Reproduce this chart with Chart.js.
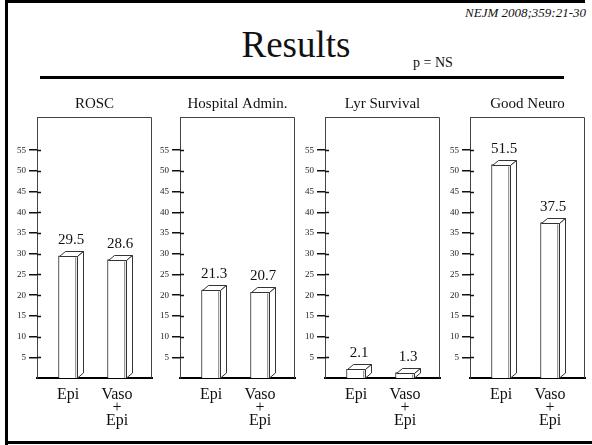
<!DOCTYPE html>
<html>
<head>
<meta charset="utf-8">
<script src="https://cdn.jsdelivr.net/npm/chart.js@4.4.1/dist/chart.umd.min.js"></script>
<style>
  html, body { margin: 0; padding: 0; background: #fff; }
  body { width: 592px; height: 445px; position: relative; overflow: hidden; font-family: "Liberation Serif", "Times New Roman", Tinos, "Noto Serif", "DejaVu Serif", serif; color: #111; }
  .abs { position: absolute; white-space: nowrap; }
  .line { position: absolute; background: #000; }
  canvas { position: absolute; top: 90px; }
  #cite { right: 6px; top: 6px; font-style: italic; font-size: 13px; line-height: 1; }
  #heading { left: 0; width: 592px; text-align: center; top: 26px; font-size: 37px; line-height: 1; }
  #pval { left: 413px; top: 56px; font-size: 14px; line-height: 1; }
</style>
</head>
<body>
<div class="line" style="left:5px;top:0px;width:3px;height:445px"></div>
<div class="line" style="left:5px;top:0px;width:580px;height:3px"></div>
<div class="line" style="left:5px;top:441px;width:587px;height:3px"></div>

<div id="cite" class="abs">NEJM 2008;359:21-30</div>
<div id="heading" class="abs">Results</div>
<div id="pval" class="abs">p = NS</div>
<div class="line" style="left:40px;top:76px;width:524px;height:3px"></div>

<canvas id="c0" width="162" height="355" style="left:0px"></canvas>
<canvas id="c1" width="162" height="355" style="left:143px"></canvas>
<canvas id="c2" width="162" height="355" style="left:288px"></canvas>
<canvas id="c3" width="162" height="355" style="left:433px"></canvas>

<script>
// Outcome panels and the two treatment groups
const panelTitles = ['ROSC', 'Hospital Admin.', 'Lyr Survival', 'Good Neuro'];
const groupLabels = [['Epi'], ['Vaso', '+', 'Epi']];
const epiValues = [29.5, 21.3, 2.1, 51.5];
const vasoEpiValues = [28.6, 20.7, 1.3, 37.5];
const yTickValues = [5, 10, 15, 20, 25, 30, 35, 40, 45, 50, 55];

const SERIF = '"Liberation Serif", "Times New Roman", Tinos, "Noto Serif", "DejaVu Serif", serif';
const DEPTH_X = 6, DEPTH_Y = 5;

// Draws the box frame, inner tick stubs, panel title, 3D bar faces and value labels
const panelDecor = {
  id: 'panelDecor',
  afterDatasetsDraw(chart, args, opts) {
    const ctx = chart.ctx;
    const a = chart.chartArea;
    const ys = chart.scales.y;
    ctx.save();
    // top and right edges of the panel box
    ctx.strokeStyle = '#444';
    ctx.lineWidth = 1;
    ctx.beginPath();
    ctx.moveTo(a.left, a.top + 0.5);
    ctx.lineTo(a.right - 0.5, a.top + 0.5);
    ctx.lineTo(a.right - 0.5, a.bottom);
    ctx.stroke();
    // tick stubs reaching into the box
    ctx.strokeStyle = '#111';
    ctx.lineWidth = 1.5;
    ys.ticks.forEach(t => {
      const py = Math.round(ys.getPixelForValue(t.value)) + 0.5;
      ctx.beginPath();
      ctx.moveTo(a.left, py);
      ctx.lineTo(a.left + 4, py);
      ctx.stroke();
    });
    // panel title
    ctx.fillStyle = '#111';
    ctx.font = '15px ' + SERIF;
    ctx.textAlign = 'center';
    ctx.textBaseline = 'middle';
    ctx.fillText(opts.title, (a.left + a.right) / 2, a.top - 13);

    // 3D top and side faces, plus labels
    const meta = chart.getDatasetMeta(0);
    meta.data.forEach((bar, i) => {
      const p = bar.getProps(['x', 'y', 'base', 'width'], true);
      const l = Math.round(p.x - p.width / 2) + 0.5;
      const r = Math.round(p.x + p.width / 2) - 0.5;
      const top = Math.round(p.y) + 0.5;
      const base = Math.round(p.base);
      ctx.fillStyle = '#fff';
      ctx.strokeStyle = '#333';
      ctx.lineWidth = 1;
      // top face
      ctx.beginPath();
      ctx.moveTo(l, top);
      ctx.lineTo(l + DEPTH_X, top - DEPTH_Y);
      ctx.lineTo(r + DEPTH_X, top - DEPTH_Y);
      ctx.lineTo(r, top);
      ctx.closePath();
      ctx.fill();
      ctx.stroke();
      // side face
      ctx.beginPath();
      ctx.moveTo(r, top);
      ctx.lineTo(r + DEPTH_X, top - DEPTH_Y);
      ctx.lineTo(r + DEPTH_X, base - DEPTH_Y);
      ctx.lineTo(r, base);
      ctx.closePath();
      ctx.fill();
      ctx.stroke();
      // shading line on the front face edge
      ctx.strokeStyle = '#9a9a9a';
      ctx.beginPath();
      ctx.moveTo(r - 2, top + 1);
      ctx.lineTo(r - 2, base);
      ctx.stroke();
      // value label
      const v = chart.data.datasets[0].data[i].y;
      ctx.fillStyle = '#111';
      ctx.font = '15px ' + SERIF;
      ctx.textAlign = 'center';
      ctx.textBaseline = 'alphabetic';
      ctx.fillText(String(v), p.x + 3, top - DEPTH_Y - 8);
    });
    ctx.restore();
  }
};

panelTitles.forEach((title, i) => {
  new Chart(document.getElementById('c' + i), {
    type: 'bar',
    data: {
      datasets: [{
        data: [
          { x: 0, y: epiValues[i] },
          { x: 1, y: vasoEpiValues[i] }
        ],
        backgroundColor: '#fff',
        borderColor: '#333',
        borderWidth: 1,
        borderSkipped: 'start',
        barThickness: 19
      }]
    },
    options: {
      responsive: false,
      animation: false,
      devicePixelRatio: 1,
      layout: { padding: { top: 27, right: 10, left: 0, bottom: 0 } },
      plugins: {
        legend: { display: false },
        tooltip: { enabled: false },
        title: { display: false },
        panelDecor: { title: title }
      },
      scales: {
        x: {
          type: 'linear',
          offset: false,
          min: -0.633,
          max: 1.714,
          afterBuildTicks: s => { s.ticks = [{ value: 0 }, { value: 1 }]; },
          afterFit: s => { s.height = 67; },
          grid: { display: false, offset: false },
          border: { display: true, color: '#000', width: 2 },
          ticks: {
            callback: v => groupLabels[v],
            font: { family: SERIF, size: 16, lineHeight: 0.82 },
            color: '#111',
            padding: 2,
            maxRotation: 0,
            autoSkip: false
          }
        },
        y: {
          min: 0,
          max: 63,
          afterBuildTicks: s => { s.ticks = yTickValues.map(v => ({ value: v })); },
          afterFit: s => { s.width = 37; },
          grid: { drawOnChartArea: false, drawTicks: true, tickLength: 8, color: '#111', lineWidth: 1.5 },
          border: { display: true, color: '#444', width: 1 },
          ticks: {
            font: { family: SERIF, size: 9 },
            color: '#222',
            padding: 3
          }
        }
      }
    },
    plugins: [panelDecor]
  });
});
</script>
</body>
</html>
